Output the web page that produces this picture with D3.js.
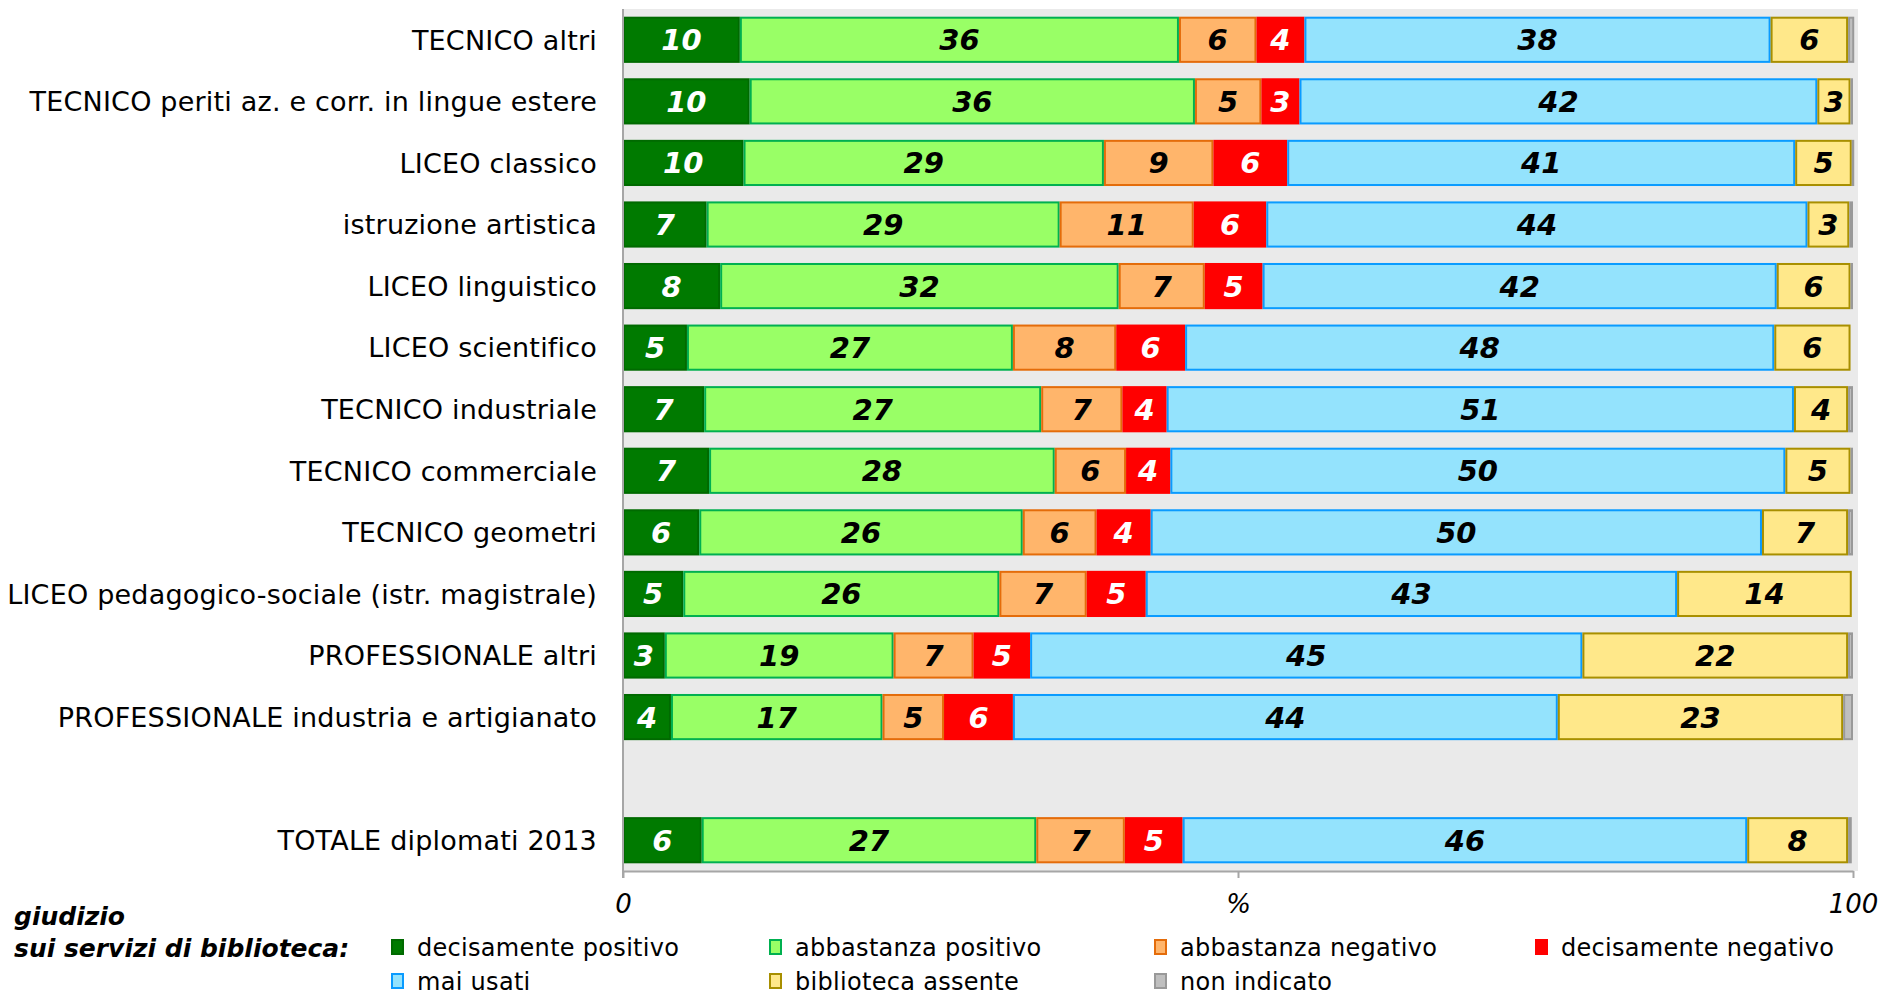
<!DOCTYPE html>
<html>
<head>
<meta charset="utf-8">
<script src="https://cdn.jsdelivr.net/npm/d3@7"></script>
<style>
  body { margin: 0; background: #fff; }
  svg { display: block; font-family: "DejaVu Sans", Verdana, sans-serif; }
</style>
</head>
<body>
<svg id="chart" width="1885" height="995"></svg>
<script>
// categories, top to bottom ("" = empty gap row)
const categories = [
    "TECNICO altri",
    "TECNICO periti az. e corr. in lingue estere",
    "LICEO classico",
    "istruzione artistica",
    "LICEO linguistico",
    "LICEO scientifico",
    "TECNICO industriale",
    "TECNICO commerciale",
    "TECNICO geometri",
    "LICEO pedagogico-sociale (istr. magistrale)",
    "PROFESSIONALE altri",
    "PROFESSIONALE industria e artigianato",
    "",
    "TOTALE diplomati 2013"
];

// values in %
const decPositivo  = [9.5, 10.3, 9.8, 6.8, 7.9, 5.2, 6.6, 7.0, 6.2, 4.9, 3.4, 3.9, null, 6.4];
const abbPositivo  = [35.7, 36.2, 29.3, 28.7, 32.4, 26.5, 27.4, 28.1, 26.3, 25.7, 18.6, 17.2, null, 27.2];
const abbNegativo  = [6.3, 5.4, 8.9, 10.9, 7.0, 8.4, 6.6, 5.8, 6.0, 7.1, 6.5, 5.0, null, 7.2];
const decNegativo  = [3.9, 3.1, 6.0, 5.9, 4.7, 5.6, 3.6, 3.6, 4.4, 4.8, 4.6, 5.6, null, 4.7];
const maiUsati     = [37.9, 42.1, 41.3, 44.0, 41.8, 47.9, 51.0, 50.0, 49.7, 43.2, 44.9, 44.3, null, 45.9];
const bibAssente   = [6.3, 2.7, 4.6, 3.4, 6.0, 6.2, 4.4, 5.3, 7.0, 14.2, 21.6, 23.2, null, 8.2];
const nonIndicato  = [0.5, 0.2, 0.2, 0.3, 0.2, 0.1, 0.4, 0.2, 0.4, 0.1, 0.4, 0.8, null, 0.3];

const seriesNames = ["decisamente positivo", "abbastanza positivo", "abbastanza negativo",
    "decisamente negativo", "mai usati", "biblioteca assente", "non indicato"];
const seriesValues = [decPositivo, abbPositivo, abbNegativo, decNegativo, maiUsati, bibAssente, nonIndicato];

const xTickValues = [0, 50, 100];
const xTickLabels = ["0", "%", "100"];

const fills   = ["#007a00", "#99ff66", "#ffb56b", "#ff0000", "#94e3fd", "#ffe88a", "#bfbfbf"];
const strokes = ["#006a00", "#00b050", "#e46c0a", "#ff0000", "#0a9bff", "#a88f00", "#999999"];
const labelColors = ["#fff", "#000", "#000", "#fff", "#000", "#000", null];

const svg = d3.select("#chart");

const plot = {left: 623, right: 1853, top: 9, bottom: 871};

const x = d3.scaleLinear().domain([0, 100]).range([plot.left, plot.right]);
const y = d3.scaleBand()
    .domain(d3.range(categories.length))
    .range([plot.top, plot.bottom])
    .paddingInner(0.25)
    .paddingOuter(0.125);

// plot background
svg.append("rect")
    .attr("x", plot.left)
    .attr("y", plot.top)
    .attr("width", plot.right + 5 - plot.left)
    .attr("height", plot.bottom - plot.top)
    .attr("fill", "#eaeaea");

// build rows for the stack
const rows = categories.map((c, i) => {
    const r = {idx: i, name: c, empty: decPositivo[i] === null};
    seriesNames.forEach((s, k) => { r[s] = seriesValues[k][i] || 0; });
    return r;
});

const stacked = d3.stack().keys(seriesNames)(rows);

const layers = svg.append("g").selectAll("g")
    .data(stacked)
    .enter().append("g");

layers.selectAll("rect")
    .data((d, k) => d.filter(p => !p.data.empty).map(p => ({p: p, k: k})))
    .enter().append("rect")
    .attr("x", d => x(d.p[0]) + 1)
    .attr("y", d => y(d.p.data.idx) + 1)
    .attr("width", d => Math.max(0, x(d.p[1]) - x(d.p[0]) - 2))
    .attr("height", y.bandwidth() - 2)
    .attr("fill", d => fills[d.k])
    .attr("stroke", d => strokes[d.k])
    .attr("stroke-width", 2);

layers.selectAll("text")
    .data((d, k) => d.filter(p => !p.data.empty && labelColors[k]).map(p => ({p: p, k: k})))
    .enter().append("text")
    .attr("x", d => (x(d.p[0]) + x(d.p[1])) / 2)
    .attr("y", d => y(d.p.data.idx) + y.bandwidth() / 2)
    .attr("dy", "0.36em")
    .attr("text-anchor", "middle")
    .attr("font-size", 29)
    .attr("font-weight", "bold")
    .attr("font-style", "italic")
    .attr("fill", d => labelColors[d.k])
    .text(d => Math.round(d.p[1] - d.p[0]));

// category labels
svg.append("g").selectAll("text")
    .data(categories)
    .enter().append("text")
    .attr("x", 597)
    .attr("y", (d, i) => y(i) + y.bandwidth() / 2)
    .attr("dy", "0.36em")
    .attr("text-anchor", "end")
    .attr("font-size", 27)
    .attr("letter-spacing", 0.2)
    .attr("fill", "#000")
    .text(d => d);

// axes
svg.append("line")
    .attr("x1", plot.left).attr("x2", plot.left)
    .attr("y1", plot.top).attr("y2", plot.bottom + 7)
    .attr("stroke", "#a6a6a6").attr("stroke-width", 2);

const xAxis = svg.append("g")
    .attr("transform", `translate(0,${plot.bottom})`)
    .call(d3.axisBottom(x).tickValues(xTickValues).tickSize(7).tickSizeOuter(0)
        .tickFormat((d, i) => xTickLabels[i]));
xAxis.select(".domain").attr("stroke", "#a6a6a6").attr("stroke-width", 2);
xAxis.selectAll(".tick line").attr("stroke", "#a6a6a6").attr("stroke-width", 2);
xAxis.selectAll(".tick text")
    .attr("font-family", "DejaVu Sans, sans-serif")
    .attr("font-size", 26)
    .attr("font-style", "italic")
    .attr("fill", "#000")
    .attr("y", 24)
    .attr("dy", "0.71em");

// legend
const legTitle = svg.append("text")
    .attr("font-size", 25)
    .attr("font-weight", "bold")
    .attr("font-style", "italic")
    .attr("fill", "#000");
legTitle.append("tspan").attr("x", 14).attr("y", 925).text("giudizio");
legTitle.append("tspan").attr("x", 14).attr("y", 957).text("sui servizi di biblioteca:");

const legCols = [391, 769, 1154, 1535];
const legRows = [947, 981];

const leg = svg.append("g").selectAll("g")
    .data(seriesNames)
    .enter().append("g")
    .attr("transform", (d, i) => `translate(${legCols[i % 4]},${legRows[Math.floor(i / 4)]})`);

leg.append("rect")
    .attr("x", 1).attr("y", -7)
    .attr("width", 11).attr("height", 14)
    .attr("fill", (d, i) => fills[i])
    .attr("stroke", (d, i) => strokes[i])
    .attr("stroke-width", 2);

leg.append("text")
    .attr("x", 26)
    .attr("dy", "0.36em")
    .attr("font-size", 24)
    .attr("letter-spacing", 0.3)
    .attr("fill", "#000")
    .text(d => d);
</script>
</body>
</html>
